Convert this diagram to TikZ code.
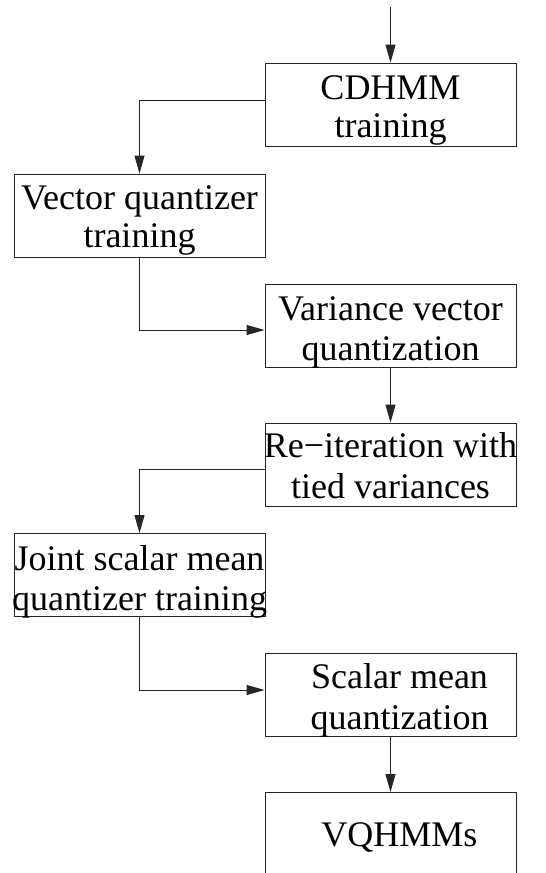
\documentclass[tikz,border=0pt]{standalone}
\usepackage{fontspec}
\setmainfont{Liberation Serif}
\usetikzlibrary{arrows.meta,calc}
\tikzset{
  stagebox/.style={draw=black!85, line width=0.9pt, rectangle, inner sep=0pt,
    minimum width=251pt, minimum height=83pt},
  line/.style={inner sep=0pt, anchor=base, font=\fontsize{36}{38}\selectfont},
  flow/.style={draw=black!85, line width=0.9pt, -{Triangle[length=18pt,width=10pt]}},
  link/.style={draw=black!85, line width=0.9pt},
}
\begin{document}
\begin{tikzpicture}[x=1pt,y=-1pt]
\clip (0,0) rectangle (546,873);
\fill[white] (0,0) rectangle (546,873);

% stage boxes
\node[stagebox] (cd)  at (390.5,104.5) {};
\node[stagebox] (vq)  at (139.5,215.5) {};
\node[stagebox] (var) at (390.5,326)   {};
\node[stagebox] (re)  at (390.5,464.5) {};
\node[stagebox] (jt)  at (139.5,575)   {};
\node[stagebox] (sc)  at (390.5,695)   {};
% final box runs past the lower edge, so only three sides are drawn
\coordinate (vqh) at (390.5,833.5);
\coordinate (vqhnw) at (265,792);
\coordinate (vqhne) at (516,792);
\draw[link] (265,880) -- (vqhnw) -- (vqhne) -- (516,880);

% texts
\node[line] (cd1) at ([yshift=-37pt]cd.north) {CDHMM};
\node[line] (cd2) at ([yshift=-75pt]cd.north) {training};
\node[line] (vq1) at ([yshift=-36pt]vq.north) {Vector quantizer};
\node[line] (vq2) at ([yshift=-74pt]vq.north) {training};
\node[line] (va1) at ([yshift=-36pt]var.north) {Variance vector};
\node[line] (va2) at ([yshift=-76pt]var.north) {quantization};
\node[line] (re1) at ([yshift=-35pt]re.north) {Re−iteration with};
\node[line] (re2) at ([yshift=-76pt]re.north) {tied variances};
\node[line] (jt1) at ([yshift=-37pt]jt.north) {Joint scalar mean};
\node[line] (jt2) at ([yshift=-77pt]jt.north) {quantizer training};
\node[line] (sc1) at ([shift={(9pt,-35pt)}]sc.north) {Scalar mean};
\node[line] (sc2) at ([shift={(9pt,-76pt)}]sc.north) {quantization};
\node[line] (vqt) at ([shift={(9pt,-13pt)}]vqh) {VQHMMs};

% connectors
\coordinate (in) at (390.5,7);
\draw[flow] (in) -- (cd.north);
\draw[flow] ([yshift=4.5pt]cd.west) -| (vq.north);
\draw[flow] (vq.south) |- ([yshift=-4pt]var.west);
\draw[flow] (var.south) -- (re.north);
\draw[flow] ([yshift=-4.5pt]re.west) -| (jt.north);
\draw[flow] (jt.south) |- ([yshift=5pt]sc.west);
\draw[flow] (sc.south) -- (vqhnw -| sc.south);
\end{tikzpicture}
\end{document}
